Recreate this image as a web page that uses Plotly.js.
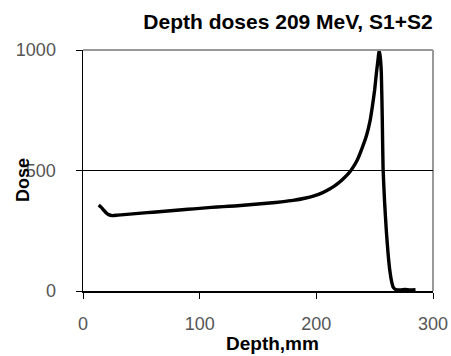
<!DOCTYPE html>
<html>
<head>
<meta charset="utf-8">
<script src="https://cdn.plot.ly/plotly-3.0.1.min.js"></script>
<style>html,body{margin:0;padding:0;background:#fff;}#chart{width:451px;height:356px;}</style>
</head>
<body>
<div id="chart"></div>
<script>
var depth = [13.5, 15.5, 17.5, 19.5, 22, 25, 30, 40, 50, 60, 70, 80, 90, 100, 110, 120, 130, 140, 150, 160, 170, 180, 190, 198, 205, 211, 216, 220, 224, 228, 231, 235, 239, 243, 246, 248, 250, 251.5, 253, 253.8, 254.8, 255.7, 256.5, 257.2, 258.5, 260, 261.5, 263, 264.5, 266, 268, 272, 276, 280, 285];
var dose = [357, 348, 337, 326, 317, 313, 315, 319, 323, 327, 331, 335, 339, 343, 347, 350, 353, 357, 361, 365, 370, 376, 385, 395, 407, 422, 437, 452, 470, 490, 510, 543, 590, 645, 705, 765, 835, 905, 965, 1000, 970, 905, 720, 510, 370, 250, 155, 85, 40, 15, 6, 4, 6, 4, 5];
var xTicks = [0, 100, 200, 300];
var yTicks = [0, 500, 1000];
var chartTitle = "Depth doses 209 MeV, S1+S2";
var xTitle = "Depth,mm";
var yTitle = "Dose";

var fam = "Liberation Sans, Arial, sans-serif";
var trace = {
  x: depth, y: dose, type: "scatter", mode: "lines",
  line: {color: "#000", width: 3.4, shape: "spline", smoothing: 0.5},
  hoverinfo: "skip", showlegend: false
};
var layout = {
  width: 451, height: 356,
  margin: {l: 83, r: 18, t: 50, b: 65},
  paper_bgcolor: "#fff", plot_bgcolor: "#fff",
  showlegend: false,
  title: {text: "<b>" + chartTitle + "</b>", font: {family: fam, size: 21, color: "#000"},
          x: 288/451, xanchor: "center", xref: "container", y: 1 - 22/356, yanchor: "middle", yref: "container"},
  xaxis: {range: [0, 300], tickvals: xTicks, ticktext: xTicks.map(String),
          showgrid: false, zeroline: false, showline: true, linecolor: "#000", linewidth: 1.5,
          ticks: "outside", ticklen: 6, tickcolor: "#000", tickwidth: 1, ticklabelstandoff: 10,
          tickfont: {family: fam, size: 18, color: "#555"}, fixedrange: true},
  yaxis: {range: [0, 1000], tickvals: yTicks, ticktext: yTicks.map(String),
          showgrid: true, gridcolor: "#000", gridwidth: 1, zeroline: false,
          showline: true, linecolor: "#000", linewidth: 1.5,
          ticks: "outside", ticklen: 6, tickcolor: "#000", tickwidth: 1, ticklabelstandoff: 16,
          tickfont: {family: fam, size: 18, color: "#555"}, fixedrange: true},
  shapes: [
    {type: "line", xref: "paper", yref: "paper", x0: 0, x1: 1, y0: 1, y1: 1, line: {color: "#999", width: 2}, layer: "above"},
    {type: "line", xref: "paper", yref: "paper", x0: 1, x1: 1, y0: 0, y1: 1, line: {color: "#999", width: 2}, layer: "below"}
  ],
  annotations: [
    {text: "<b>" + xTitle + "</b>", xref: "paper", yref: "paper", x: (272-83)/350, y: -(343-291)/241,
     xanchor: "center", yanchor: "middle", showarrow: false, font: {family: fam, size: 19, color: "#000"}},
    {text: "<b>" + yTitle + "</b>", xref: "paper", yref: "paper", x: -(83-23)/350, y: (291-180)/241,
     xanchor: "center", yanchor: "middle", showarrow: false, textangle: -90, font: {family: fam, size: 18, color: "#000"}}
  ]
};
Plotly.newPlot("chart", [trace], layout, {staticPlot: true, displayModeBar: false});
</script>
</body>
</html>
